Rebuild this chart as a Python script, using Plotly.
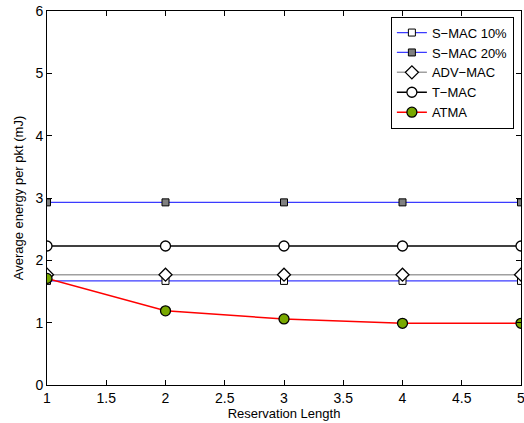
import plotly.graph_objects as go

x = [1, 2, 3, 4, 5]
smac10 = [1.67, 1.67, 1.67, 1.67, 1.67]
smac20 = [2.93, 2.93, 2.93, 2.93, 2.93]
advmac = [1.77, 1.77, 1.77, 1.77, 1.77]
tmac = [2.23, 2.23, 2.23, 2.23, 2.23]
atma = [1.71, 1.19, 1.06, 0.99, 0.99]

fig = go.Figure()
fig.add_trace(go.Scatter(x=x, y=smac10, name="S\u2212MAC 10%", mode="lines+markers",
                         line=dict(color="#3b3bff", width=1.2),
                         marker=dict(symbol="square", size=7, color="white", line=dict(color="black", width=1))))
fig.add_trace(go.Scatter(x=x, y=smac20, name="S\u2212MAC 20%", mode="lines+markers",
                         line=dict(color="#3b3bff", width=1.2),
                         marker=dict(symbol="square", size=7, color="#808080", line=dict(color="black", width=1))))
fig.add_trace(go.Scatter(x=x, y=advmac, name="ADV\u2212MAC", mode="lines+markers",
                         line=dict(color="#a0a0a0", width=1.5),
                         marker=dict(symbol="diamond", size=10, color="white", line=dict(color="black", width=1.3))))
fig.add_trace(go.Scatter(x=x, y=tmac, name="T\u2212MAC", mode="lines+markers",
                         line=dict(color="black", width=1.5),
                         marker=dict(symbol="circle", size=10, color="white", line=dict(color="black", width=1.3))))
fig.add_trace(go.Scatter(x=x, y=atma, name="ATMA", mode="lines+markers",
                         line=dict(color="red", width=1.5),
                         marker=dict(symbol="circle", size=10, color="#78a800", line=dict(color="black", width=1.3))))

axis_common = dict(showline=True, linecolor="black", linewidth=1, mirror="ticks",
                   ticks="inside", ticklen=5, tickcolor="black", showgrid=False, zeroline=False,
                   ticklabeloverflow="allow",
                   tickfont=dict(size=14, color="black"))
fig.update_xaxes(range=[1, 5], tickvals=[1, 1.5, 2, 2.5, 3, 3.5, 4, 4.5, 5],
                 ticktext=["1", "1.5", "2", "2.5", "3", "3.5", "4", "4.5", "5"],
                 title=dict(text="Reservation Length", font=dict(size=13, color="black"), standoff=1),
                 **axis_common)
fig.update_yaxes(range=[0, 6], tickvals=[0, 1, 2, 3, 4, 5, 6],
                 title=dict(text="Average energy per pkt (mJ)", font=dict(size=13, color="black"), standoff=8),
                 **axis_common)
fig.update_layout(width=528, height=423, margin=dict(l=47, r=3, t=7, b=38),
                  plot_bgcolor="white", paper_bgcolor="white",
                  font=dict(family="Liberation Sans, Arial, sans-serif", size=14, color="black"),
                  legend=dict(x=0.985, y=0.985, xanchor="right", yanchor="top",
                              bordercolor="black", borderwidth=1, bgcolor="white",
                              font=dict(size=13), tracegroupgap=0, itemwidth=30))
fig.write_html("out.html", config={"displayModeBar": False},
               post_script="document.body.style.margin='0';document.body.style.overflow='hidden';")
